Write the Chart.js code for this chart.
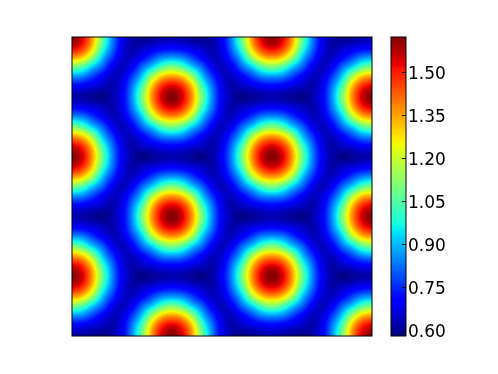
<!DOCTYPE html>
<html>
<head>
<meta charset="utf-8">
<style>html,body{margin:0;padding:0;background:#fff}canvas{display:block}</style>
<script src="https://cdn.jsdelivr.net/npm/chart.js@4"></script>
</head>
<body>
<canvas id="c" width="498" height="374"></canvas>
<script>
const colorbarTicks = [0.60, 0.75, 0.90, 1.05, 1.20, 1.35, 1.50];
const colorMin = 0.581;
const colorMax = 1.622;
const rowA = [1.62,1.55,1.365,1.095,.855,.69,.62,.585,.60,.615,.625,.615,.60,.585,.62,.69,.855,1.095,1.365,1.55,1.62,1.55,1.365,1.095,.855,.69,.62,.585,.60,.615,.625];
const rowB = [1.55,1.49,1.315,1.04,.835,.68,.62,.64,.66,.685,.695,.685,.66,.64,.62,.68,.835,1.04,1.315,1.49,1.55,1.49,1.315,1.04,.835,.68,.62,.64,.66,.685,.695];
const rowC = [1.365,1.315,1.155,.925,.77,.66,.64,.695,.77,.84,.86,.84,.77,.695,.64,.66,.77,.925,1.155,1.315,1.365,1.315,1.155,.925,.77,.66,.64,.695,.77,.84,.86];
const rowD = [1.105,1.05,.925,.815,.69,.635,.69,.815,.925,1.05,1.105,1.05,.925,.815,.69,.635,.69,.815,.925,1.05,1.105,1.05,.925,.815,.69,.635,.69,.815,.925,1.05,1.105];
const rowE = [.86,.84,.77,.695,.64,.66,.77,.925,1.155,1.315,1.365,1.315,1.155,.925,.77,.66,.64,.695,.77,.84,.86,.84,.77,.695,.64,.66,.77,.925,1.155,1.315,1.365];
const rowF = [.695,.685,.66,.64,.62,.68,.835,1.04,1.315,1.49,1.55,1.49,1.315,1.04,.835,.68,.62,.64,.66,.685,.695,.685,.66,.64,.62,.68,.835,1.04,1.315,1.49,1.55];
const rowG = [.625,.615,.60,.585,.62,.69,.855,1.095,1.365,1.55,1.62,1.55,1.365,1.095,.855,.69,.62,.585,.60,.615,.625,.615,.60,.585,.62,.69,.855,1.095,1.365,1.55,1.62];
const heat = [
  rowA,rowB,rowC,rowD,rowE,rowF,rowG,rowF,rowE,rowD,rowC,rowB,
  rowA,rowB,rowC,rowD,rowE,rowF,rowG,rowF,rowE,rowD,rowC,rowB,
  rowA,rowB,rowC,rowD,rowE,rowF,rowG
];

function ramp(t, pts) {
  if (t <= pts[0][0]) return pts[0][1];
  for (let i = 1; i < pts.length; i++) {
    if (t <= pts[i][0]) {
      const a = pts[i-1], b = pts[i];
      return a[1] + (b[1]-a[1]) * (t-a[0]) / (b[0]-a[0]);
    }
  }
  return pts[pts.length-1][1];
}
const jetR = [[0,0],[.35,0],[.66,1],[.89,1],[1,.5]];
const jetG = [[0,0],[.125,0],[.375,1],[.64,1],[.91,0],[1,0]];
const jetB = [[0,.5],[.11,1],[.34,1],[.65,0],[1,0]];
function jet(v) {
  let t = (v - colorMin) / (colorMax - colorMin);
  t = Math.max(0, Math.min(1, t));
  t = Math.round(t * 255) / 255;
  return [ramp(t,jetR)*255, ramp(t,jetG)*255, ramp(t,jetB)*255];
}
function cubic(p0,p1,p2,p3,t) {
  return p1 + 0.5*t*(p2-p0 + t*(2*p0-5*p1+4*p2-p3 + t*(3*(p1-p2)+p3-p0)));
}
function shade(xv, yv) {
  const nx = heat[0].length-1, ny = heat.length-1;
  const ix = Math.max(0, Math.min(nx-1, Math.floor(xv)));
  const iy = Math.max(0, Math.min(ny-1, Math.floor(yv)));
  const fx = xv-ix, fy = yv-iy;
  const col = [];
  for (let j = -1; j <= 2; j++) {
    const r = heat[Math.max(0, Math.min(ny, iy+j))];
    col.push(cubic(r[Math.max(0,ix-1)], r[ix], r[ix+1], r[Math.min(nx,ix+2)], fx));
  }
  return cubic(col[0],col[1],col[2],col[3],fy);
}

const heatPlugin = {
  id: 'heat',
  beforeDraw(chart) {
    chart.scales.cb.getLabelItems(chart.chartArea).forEach(it => {
      it.options.translation[1] += 2.5;
    });
  },
  beforeDatasetsDraw(chart) {
    const ctx = chart.ctx, a = chart.chartArea;
    const xs = chart.scales.x, ys = chart.scales.y, cs = chart.scales.cb;
    const w = Math.round(a.right-a.left), h = Math.round(a.bottom-a.top);
    const L = Math.round(a.left), T = Math.round(a.top);
    const img = ctx.createImageData(w, h);
    for (let j = 0; j < h; j++) {
      const yv = ys.getValueForPixel(T+j+0.5);
      for (let i = 0; i < w; i++) {
        const xv = xs.getValueForPixel(L+i+0.5);
        const c = jet(shade(xv, yv));
        const o = (j*w+i)*4;
        img.data[o]=c[0]; img.data[o+1]=c[1]; img.data[o+2]=c[2]; img.data[o+3]=255;
      }
    }
    ctx.putImageData(img, L, T);
    ctx.save();
    ctx.strokeStyle = '#000';
    ctx.lineWidth = 1;
    ctx.strokeRect(L, T, w, h);
    // colour bar, one row per pixel, coloured through its own scale
    const barL = L + w + 19, barW = 15;
    for (let j = 0; j < h; j++) {
      const c = jet(cs.getValueForPixel(T+j+0.5));
      ctx.fillStyle = 'rgb('+c.map(Math.round).join(',')+')';
      ctx.fillRect(barL, T+j, barW, 1);
    }
    ctx.strokeRect(barL, T, barW, h);
    ctx.beginPath();
    colorbarTicks.forEach(v => {
      const y = Math.round(cs.getPixelForValue(v)) + 0.5;
      ctx.moveTo(barL+barW, y);
      ctx.lineTo(barL+barW-4, y);
    });
    ctx.stroke();
    ctx.restore();
  }
};

new Chart(document.getElementById('c'), {
  type: 'scatter',
  data: { datasets: [{ data: [], pointRadius: 0 }] },
  plugins: [heatPlugin],
  options: {
    responsive: false,
    animation: false,
    layout: { padding: { left: 72, top: 37, bottom: 38, right: 0 } },
    plugins: { legend: { display: false }, tooltip: { enabled: false } },
    scales: {
      x: { type: 'linear', min: 0, max: 30, display: false },
      y: { type: 'linear', min: 0, max: 30, reverse: true, display: false },
      cb: {
        type: 'linear',
        position: 'right',
        min: colorMin,
        max: colorMax,
        grid: { display: false, drawTicks: false },
        border: { display: false },
        afterFit(s) { s.width = 126; s.paddingTop = 0; s.paddingBottom = 0; },
        afterBuildTicks(s) { s.ticks = colorbarTicks.map(v => ({ value: v })); },
        ticks: {
          padding: 36,
          color: '#000',
          font: { family: 'DejaVu Sans', size: 17 },
          autoSkip: false,
          callback: v => Number(v).toFixed(2)
        }
      }
    }
  }
});
</script>
</body>
</html>
